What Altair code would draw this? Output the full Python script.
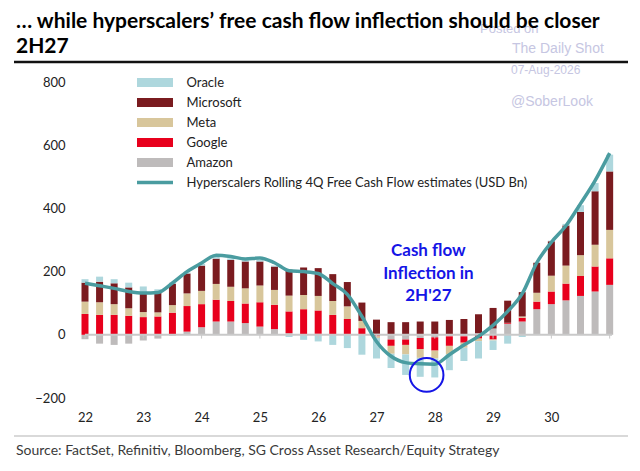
import altair as alt
import pandas as pd

# quarterly bars, 1Q22 .. 1Q31 (x in years, 22 = 2022)
quarters = [22 + i / 4 for i in range(37)]

companies = ["Oracle", "Microsoft", "Meta", "Google", "Amazon"]
colors = ["#aed7dd", "#7a1b1f", "#d8c69b", "#e8001c", "#bebbbb"]

# USD bn
amazon = [-14, -28, -32, -28, -18, -12, -3, 10, 24, 42, 42, 37, 26, 18, 5, 0, 3, 0, 0, 0,
          3, -15, -15, -10, -8, -5, -5, 5, 20, 35, 42, 81, 97, 109, 123, 137, 158]
google = [66, 63, 63, 60, 56, 58, 70, 81, 73, 69, 65, 62, 77, 77, 69, 81, 74, 63, 50, 21,
          -5, -20, -17, -35, -42, -30, -20, -12, -15, 3, 12, 24, 40, 53, 63, 79, 84]
meta = [39, 40, 34, 24, 16, 13, 24, 40, 42, 50, 45, 48, 53, 47, 50, 45, 46, 44, 40, 23,
        -5, -25, -30, -28, -25, -27, -16, -8, -3, 0, 4, 28, 50, 57, 66, 69, 90]
microsoft = [60, 65, 66, 66, 62, 68, 68, 63, 80, 80, 85, 85, 76, 74, 82, 87, 88, 85, 77, 58,
             45, 40, 40, 42, 42, 47, 50, 60, 65, 70, 77, 95, 109, 127, 137, 169, 185]
oracle = [11, 16, 13, 15, 19, 5, 3, 3, 5, 7, 5, 4, 5, 3, -7, -16, -21, -32, -42, -63,
          -65, -45, -65, -60, -60, -50, -42, -55, -30, -28, -7, 0, 2, 5, 21, 26, 53]
fcf_rolling = [163, 155, 147, 137, 132, 134, 164, 200, 227, 252, 248, 240, 243, 228, 203, 200,
               194, 162, 128, 58, -21, -68, -88, -92, -93, -63, -32, -5, 30, 74, 130, 228,
               293, 345, 415, 488, 575]

year_ticks = [22, 23, 24, 25, 26, 27, 28, 29, 30, 31]
year_labels = [22, 23, 24, 25, 26, 27, 28, 29, 30]
y_ticks = [-200, 0, 200, 400, 600, 800]

line_name = "Hyperscalers Rolling 4Q Free Cash Flow estimates (USD Bn)"
note_lines = ["Cash flow", "Inflection in", "2H'27"]
note_y = [250, 177, 108]

FONT = "Lato"

series = {"Amazon": amazon, "Google": google, "Meta": meta,
          "Microsoft": microsoft, "Oracle": oracle}
stack_rank = {"Amazon": 0, "Google": 1, "Meta": 2, "Microsoft": 3, "Oracle": 4}
bars_df = pd.DataFrame([
    {"t": q, "company": name, "value": v, "rank": stack_rank[name]}
    for name, vals in series.items() for q, v in zip(quarters, vals)
])
line_df = pd.DataFrame({"t": quarters, "fcf": fcf_rolling, "series": line_name})

x_scale = alt.Scale(domain=[22, 31.04], nice=False, zero=False)
y_scale = alt.Scale(domain=[-200, 800], nice=False)

bars = alt.Chart(bars_df).mark_bar(size=7, clip=True).encode(
    x=alt.X("t:Q", scale=x_scale,
            axis=alt.Axis(values=year_labels, format="d", title=None, ticks=False,
                          domain=False, grid=False, labelFlush=False, labelPadding=13,
                          labelFont=FONT, labelFontSize=13, labelColor="#222")),
    y=alt.Y("value:Q", stack="zero", scale=y_scale,
            axis=alt.Axis(values=y_ticks, title=None, ticks=False, domain=False, grid=False,
                          labelPadding=15, labelFont=FONT, labelFontSize=13,
                          labelColor="#222")),
    color=alt.Color("company:N", scale=alt.Scale(domain=companies, range=colors),
                    legend=alt.Legend(orient="none", legendX=57, legendY=-6, title=None,
                                      symbolType="M-4,-1H4V1H-4Z", symbolSize=81,
                                      symbolOffset=11.5, labelOffset=25, rowPadding=6,
                                      symbolStrokeWidth=0, symbolOpacity=1, padding=0,
                                      labelFont=FONT, labelFontSize=13, labelColor="#222")),
    order=alt.Order("rank:Q", sort="ascending"),
)

zero_df = pd.DataFrame({"x": [22], "x2": [31.04], "y": [0]})
zero_line = alt.Chart(zero_df).mark_rule(color="#c9c9c9", strokeWidth=2).encode(
    x="x:Q", x2="x2:Q", y="y:Q")
ticks_df = pd.DataFrame({"x": year_ticks, "y": 0, "y2": -12})
ticks = alt.Chart(ticks_df).mark_rule(color="#c9c9c9", strokeWidth=1).encode(
    x="x:Q", y="y:Q", y2="y2:Q")

line = alt.Chart(line_df).mark_line(strokeWidth=3.5, interpolate="monotone", clip=True).encode(
    x="t:Q", y="fcf:Q",
    stroke=alt.Stroke("series:N", scale=alt.Scale(domain=[line_name], range=["#4a9ca0"]),
                      legend=alt.Legend(orient="none", legendX=57, legendY=94, title=None,
                                        symbolType="M-4,0H4", symbolSize=81,
                                        symbolStrokeWidth=3.5, symbolOffset=11.5,
                                        labelOffset=25, labelLimit=0, padding=0,
                                        labelFont=FONT, labelFontSize=13,
                                        labelColor="#222")),
)

note_df = pd.DataFrame({"t": [27.89] * 3, "y": note_y, "txt": note_lines})
note = alt.Chart(note_df).mark_text(font=FONT, fontSize=17, fontWeight="bold",
                                    color="#1515e6", align="center",
                                    baseline="alphabetic").encode(
    x="t:Q", y="y:Q", text="txt:N")

ring_df = pd.DataFrame({"t": [27.86], "y": [-127]})
ring = alt.Chart(ring_df).mark_point(shape="circle", size=1134, filled=False,
                                     color="#1515e6", strokeWidth=2, opacity=1).encode(
    x="t:Q", y="y:Q")


def text_at(txt, x, y, size, color, weight="normal", font=FONT):
    return alt.Chart(pd.DataFrame({"txt": [txt]})).mark_text(
        align="left", baseline="alphabetic", font=font, fontSize=size,
        fontWeight=weight, color=color).encode(
        x=alt.value(x), y=alt.value(y), text="txt:N")


def hline(x1, x2, y, color, width):
    return alt.Chart(pd.DataFrame({"a": [0]})).mark_rule(
        color=color, strokeWidth=width).encode(
        x=alt.value(x1), x2=alt.value(x2), y=alt.value(y))


wm = "#c6c6e2"
watermark = [
    text_at("Posted on", 400, -49, 13, wm, font="Liberation Sans"),
    text_at("The Daily Shot", 432, -29, 14, wm, font="Liberation Sans"),
    text_at("07-Aug-2026", 431, -8, 12, wm, font="Liberation Sans"),
    text_at("@SoberLook", 431, 24, 14, wm, font="Liberation Sans"),
]
title = [
    text_at("\u2026 while hyperscalers\u2019 free cash flow inflection should be closer",
            -64, -54, 21, "#000", "bold"),
    text_at("2H27", -64, -29, 21, "#000", "bold"),
    hline(-66, 548, -20, "#111", 2.5),
]
footer = [
    hline(-66, 548, 354, "#cccccc", 1.5),
    text_at("Source: FactSet, Refinitiv, Bloomberg, SG Cross Asset Research/Equity Strategy",
            -64, 373, 14, "#3a3a3a"),
]

chart = alt.layer(
    *watermark, bars, zero_line, ticks, line, note, ring, *title, *footer
).properties(
    width=537, height=316,
    autosize=alt.AutoSizeParams(type="none"),
    padding={"left": 72, "top": 74, "right": 15, "bottom": 73},
).resolve_scale(color="independent").configure_view(strokeWidth=0)

chart.save("out.html", embed_options={"renderer": "svg", "actions": False})
